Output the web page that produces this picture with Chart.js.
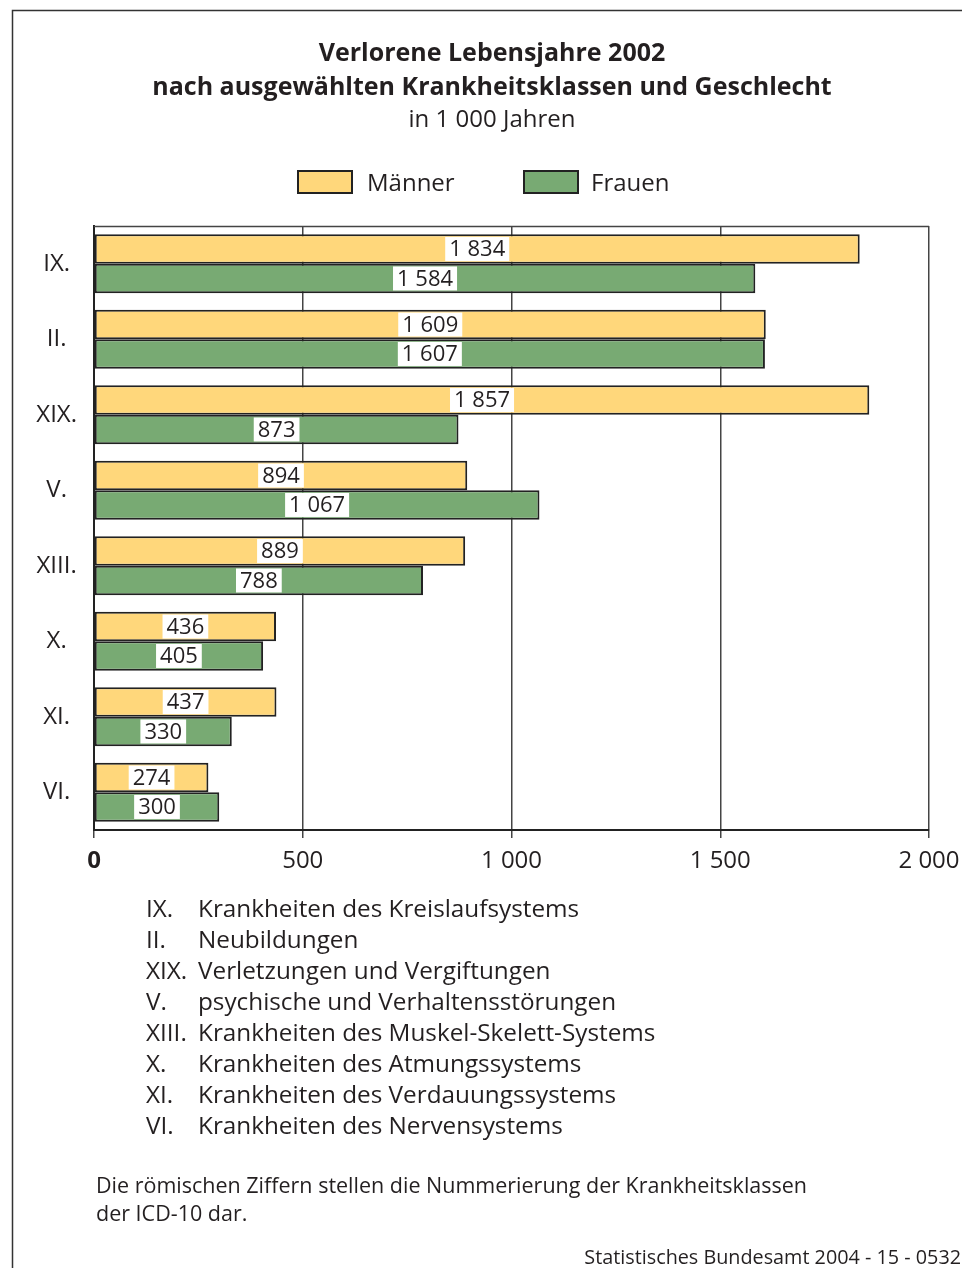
<!DOCTYPE html>
<html><head><meta charset="utf-8">
<script src="https://cdn.jsdelivr.net/npm/chart.js@4/dist/chart.umd.min.js"></script>
<style>html,body{margin:0;padding:0;background:#fff}canvas{display:block}</style>
</head><body>
<canvas id="c" width="962" height="1268"></canvas>
<script>
const categories = ['IX.', 'II.', 'XIX.', 'V.', 'XIII.', 'X.', 'XI.', 'VI.'];
const seriesNames = ['Männer', 'Frauen'];
const maenner = [1834, 1609, 1857, 894, 889, 436, 437, 274];
const frauen = [1584, 1607, 873, 1067, 788, 405, 330, 300];
const xTickValues = [0, 500, 1000, 1500, 2000];
const classNames = [
  'Krankheiten des Kreislaufsystems',
  'Neubildungen',
  'Verletzungen und Vergiftungen',
  'psychische und Verhaltensstörungen',
  'Krankheiten des Muskel-Skelett-Systems',
  'Krankheiten des Atmungssystems',
  'Krankheiten des Verdauungssystems',
  'Krankheiten des Nervensystems'
];
const titleLines = ['Verlorene Lebensjahre 2002', 'nach ausgewählten Krankheitsklassen und Geschlecht'];
const subtitleText = 'in 1 000 Jahren';
const footnoteLines = ['Die römischen Ziffern stellen die Nummerierung der Krankheitsklassen', 'der ICD-10 dar.'];
const sourceText = 'Statistisches Bundesamt 2004 - 15 - 0532';

const FONT = '"Open Sans", "Noto Sans", "DejaVu Sans", sans-serif';
const TEXT = '#231f20';
const YELLOW = '#ffd77b';
const GREEN = '#78aa73';
const fmt = n => String(n).replace(/\B(?=(\d{3})+(?!\d))/g, ' ');

const framePlugin = {
  id: 'frame',
  beforeDraw(chart) {
    const ctx = chart.ctx;
    ctx.save();
    ctx.fillStyle = '#fff';
    ctx.fillRect(0, 0, chart.width, chart.height);
    ctx.strokeStyle = '#333';
    ctx.lineWidth = 1.5;
    ctx.strokeRect(12.5, 10.5, 1100, 1400);
    ctx.restore();
  },
  beforeDatasetsDraw(chart) {
    const a = chart.chartArea, ctx = chart.ctx;
    ctx.save();
    ctx.strokeStyle = '#444';
    ctx.lineWidth = 1.5;
    ctx.beginPath();
    ctx.moveTo(a.left, a.top + 0.5);
    ctx.lineTo(a.right, a.top + 0.5);
    ctx.stroke();
    ctx.restore();
  }
};

const valueLabelPlugin = {
  id: 'valueLabels',
  afterDatasetsDraw(chart) {
    const ctx = chart.ctx;
    ctx.save();
    ctx.font = '22px ' + FONT;
    ctx.textAlign = 'center';
    ctx.textBaseline = 'middle';
    chart.data.datasets.forEach((ds, di) => {
      const meta = chart.getDatasetMeta(di);
      meta.data.forEach((bar, i) => {
        const txt = fmt(ds.data[i]);
        const cx = (bar.base + bar.x) / 2;
        const cy = bar.y;
        const w = ctx.measureText(txt).width + 8;
        ctx.fillStyle = '#fff';
        ctx.fillRect(cx - w / 2, cy - 12, w, 24);
        ctx.fillStyle = TEXT;
        ctx.fillText(txt, cx, cy + 1);
      });
    });
    ctx.restore();
  }
};

const legendPlugin = {
  id: 'customLegend',
  afterDraw(chart) {
    const ctx = chart.ctx;
    const items = [
      {box: 298, text: 367, color: YELLOW, label: seriesNames[0]},
      {box: 524, text: 591, color: GREEN, label: seriesNames[1]}
    ];
    ctx.save();
    ctx.font = '24px ' + FONT;
    ctx.textBaseline = 'middle';
    ctx.textAlign = 'left';
    items.forEach(it => {
      ctx.fillStyle = it.color;
      ctx.fillRect(it.box, 171, 54, 22);
      ctx.strokeStyle = '#222';
      ctx.lineWidth = 2;
      ctx.strokeRect(it.box, 171, 54, 22);
      ctx.fillStyle = TEXT;
      ctx.fillText(it.label, it.text, 184);
    });
    ctx.restore();
  }
};

const notesPlugin = {
  id: 'notes',
  afterDraw(chart) {
    const ctx = chart.ctx;
    ctx.save();
    ctx.fillStyle = TEXT;
    ctx.textBaseline = 'middle';
    ctx.textAlign = 'left';
    ctx.font = '24.3px ' + FONT;
    categories.forEach((c, i) => {
      const y = 910 + i * 31;
      ctx.fillText(c, 146, y);
      ctx.fillText(classNames[i], 198, y);
    });
    ctx.font = '21.5px ' + FONT;
    footnoteLines.forEach((l, i) => ctx.fillText(l, 96, 1187 + i * 28));
    ctx.font = '19.8px ' + FONT;
    ctx.textAlign = 'right';
    ctx.fillText(sourceText, 961, 1258);
    ctx.restore();
  }
};

new Chart(document.getElementById('c'), {
  type: 'bar',
  data: {
    labels: categories,
    datasets: [
      {label: seriesNames[0], data: maenner, backgroundColor: YELLOW, borderColor: '#222', borderWidth: 2, borderSkipped: false},
      {label: seriesNames[1], data: frauen, backgroundColor: GREEN, borderColor: '#222', borderWidth: 2, borderSkipped: false}
    ]
  },
  options: {
    indexAxis: 'y',
    responsive: false,
    animation: false,
    devicePixelRatio: 1,
    categoryPercentage: 0.78,
    barPercentage: 1,
    layout: {padding: {left: 22, right: 0, top: 0, bottom: 388}},
    plugins: {
      legend: {display: false},
      tooltip: {enabled: false},
      title: {
        display: true,
        text: titleLines,
        color: TEXT,
        font: {family: FONT, size: 25, weight: 'bold', lineHeight: 34 / 25},
        padding: {top: 37, bottom: 0}
      },
      subtitle: {
        display: true,
        text: subtitleText,
        color: TEXT,
        font: {family: FONT, size: 24, weight: 'normal', lineHeight: 30 / 24},
        padding: {top: 0, bottom: 91}
      }
    },
    scales: {
      x: {
        type: 'linear',
        min: 0, max: 2000,
        afterBuildTicks: s => { s.ticks = xTickValues.map(v => ({value: v})); },
        afterFit: s => { s.height = 50; s.paddingRight = 0; s.paddingLeft = 0; },
        grid: {color: '#444', lineWidth: 1.5, tickLength: 8, drawTicks: true},
        border: {display: true, color: '#222', width: 2},
        ticks: {
          padding: 9,
          color: TEXT,
          maxRotation: 0,
          font: c => ({family: FONT, size: 24, weight: c.index === 0 ? 'bold' : 'normal'}),
          callback: v => fmt(v)
        }
      },
      y: {
        afterFit: s => { s.width = 72; },
        grid: {display: false, drawTicks: false},
        border: {display: true, color: '#222', width: 2},
        ticks: {crossAlign: 'center', padding: 17, color: TEXT, font: {family: FONT, size: 24}}
      },
      y2: {
        type: 'category',
        position: 'right',
        labels: categories,
        afterFit: s => { s.width = 33; },
        grid: {display: false, drawTicks: false},
        border: {display: false},
        ticks: {display: false}
      }
    }
  },
  plugins: [framePlugin, valueLabelPlugin, legendPlugin, notesPlugin]
});
</script>
</body></html>
